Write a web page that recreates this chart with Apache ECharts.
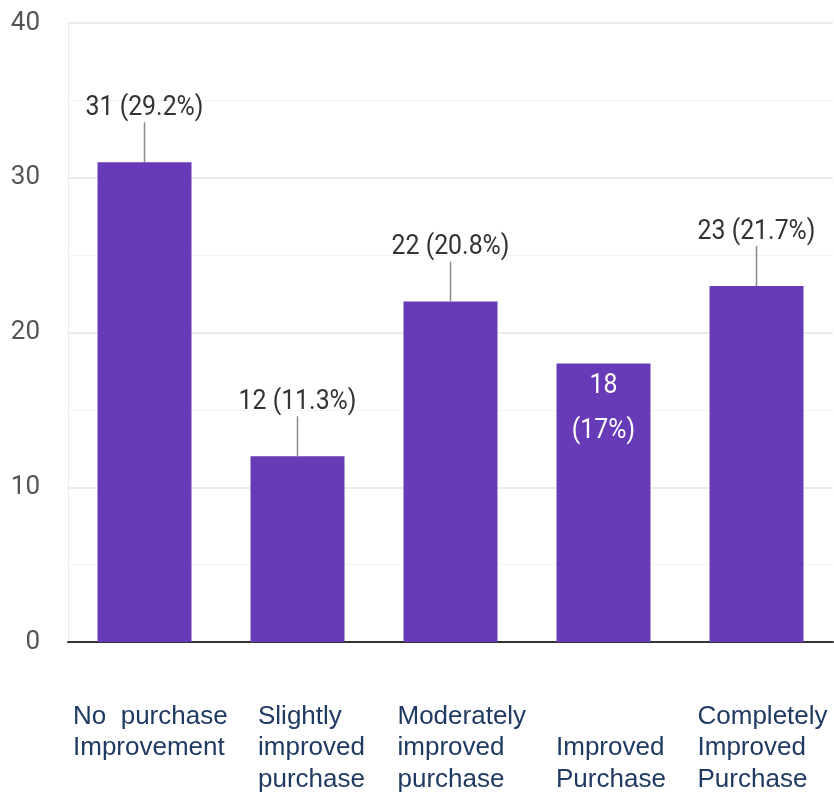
<!DOCTYPE html>
<html>
<head>
<meta charset="utf-8">
<script src="https://cdn.jsdelivr.net/npm/echarts@6/dist/echarts.min.js"></script>
<style>
  html, body { margin: 0; padding: 0; background: #fff; overflow: hidden; }
  #chart { width: 834px; height: 794px; }
</style>
</head>
<body>
<div id="chart"></div>
<script>
// Survey answers: how much purchasing improved
const categories = [
  'No  purchase\nImprovement',
  'Slightly\nimproved\npurchase',
  'Moderately\nimproved\npurchase',
  'Improved\nPurchase',
  'Completely\nImproved\nPurchase'
];
const counts = [31, 12, 22, 18, 23];
const percents = ['29.2', '11.3', '20.8', '17', '21.7'];
const yTicks = [0, 10, 20, 30, 40];

// Which bars carry their label inside the bar (white text)
const insideLabel = [false, false, false, true, false];

// Left inset of each category caption and whether it starts one line lower
const captionPad = [17, 81, 54, 65, 42];
const captionDrop = [false, false, false, true, false];

const BAR = '#673ab7';
const NUM_FONT = 'Roboto';

const rich = {};
captionPad.forEach((p, i) => {
  rich['c' + i] = {
    width: 160,
    align: 'left',
    padding: [0, 0, 0, p],
    fontFamily: 'Liberation Sans',
    fontSize: 26,
    lineHeight: 31.5,
    color: '#1f3a63'
  };
});

// value-label text, slightly narrowed like a condensed face
const numText = (text, x, y, fill) => ({
  type: 'text',
  x: x, y: y,
  scaleX: 0.92,
  style: { text: text, x: 0, y: 0, align: 'center', verticalAlign: 'middle',
           fill: fill, fontFamily: NUM_FONT, fontSize: 27 }
});

const chart = echarts.init(document.getElementById('chart'));
chart.setOption({
  animation: false,
  grid: { left: 68, right: 1, top: 23, bottom: 152, outerBoundsMode: 'none', containLabel: false },
  xAxis: {
    type: 'category',
    data: categories,
    axisTick: { show: false },
    axisLine: { show: true, lineStyle: { color: '#333', width: 2 } },
    axisLabel: {
      interval: 0,
      margin: 59,
      align: 'center',
      lineHeight: 31.5,
      fontSize: 26,
      formatter: (value, idx) => {
        const lines = value.split('\n').map(l => '{c' + idx + '|' + l + '}');
        if (captionDrop[idx]) lines.unshift('{c' + idx + '|}');
        return lines.join('\n');
      },
      rich: rich
    }
  },
  yAxis: {
    type: 'value',
    min: yTicks[0],
    max: yTicks[yTicks.length - 1],
    interval: 10,
    axisLine: { show: true, lineStyle: { color: '#ececec', width: 1 } },
    axisTick: { show: false },
    axisLabel: {
      margin: 28,
      fontFamily: NUM_FONT,
      fontSize: 26,
      color: '#555'
    },
    splitLine: { lineStyle: { color: '#e6e6e6', width: 1.5 } },
    minorTick: { show: false, splitNumber: 2 },
    minorSplitLine: { show: true, lineStyle: { color: '#f3f3f3', width: 1 } }
  },
  series: [
    {
      type: 'bar',
      data: counts,
      barWidth: 94,
      itemStyle: { color: BAR },
      z: 2
    },
    {
      // value labels with short leader lines above the bars
      type: 'custom',
      clip: false,
      z: 5,
      data: counts.map((c, i) => [i, c]),
      renderItem: (params, api) => {
        const i = params.dataIndex;
        const top = api.coord([api.value(0), api.value(1)]);
        if (insideLabel[i]) {
          return {
            type: 'group',
            children: [
              numText(String(counts[i]), top[0], top[1] + 23, '#fff'),
              numText('(' + percents[i] + '%)', top[0], top[1] + 68, '#fff')
            ]
          };
        }
        return {
          type: 'group',
          children: [
            { type: 'line', shape: { x1: top[0], y1: top[1], x2: top[0], y2: top[1] - 40 },
              style: { stroke: '#8a8a8a', lineWidth: 1.5 } },
            numText(counts[i] + ' (' + percents[i] + '%)', top[0], top[1] - 54, '#333')
          ]
        };
      }
    }
  ]
});
</script>
</body>
</html>
